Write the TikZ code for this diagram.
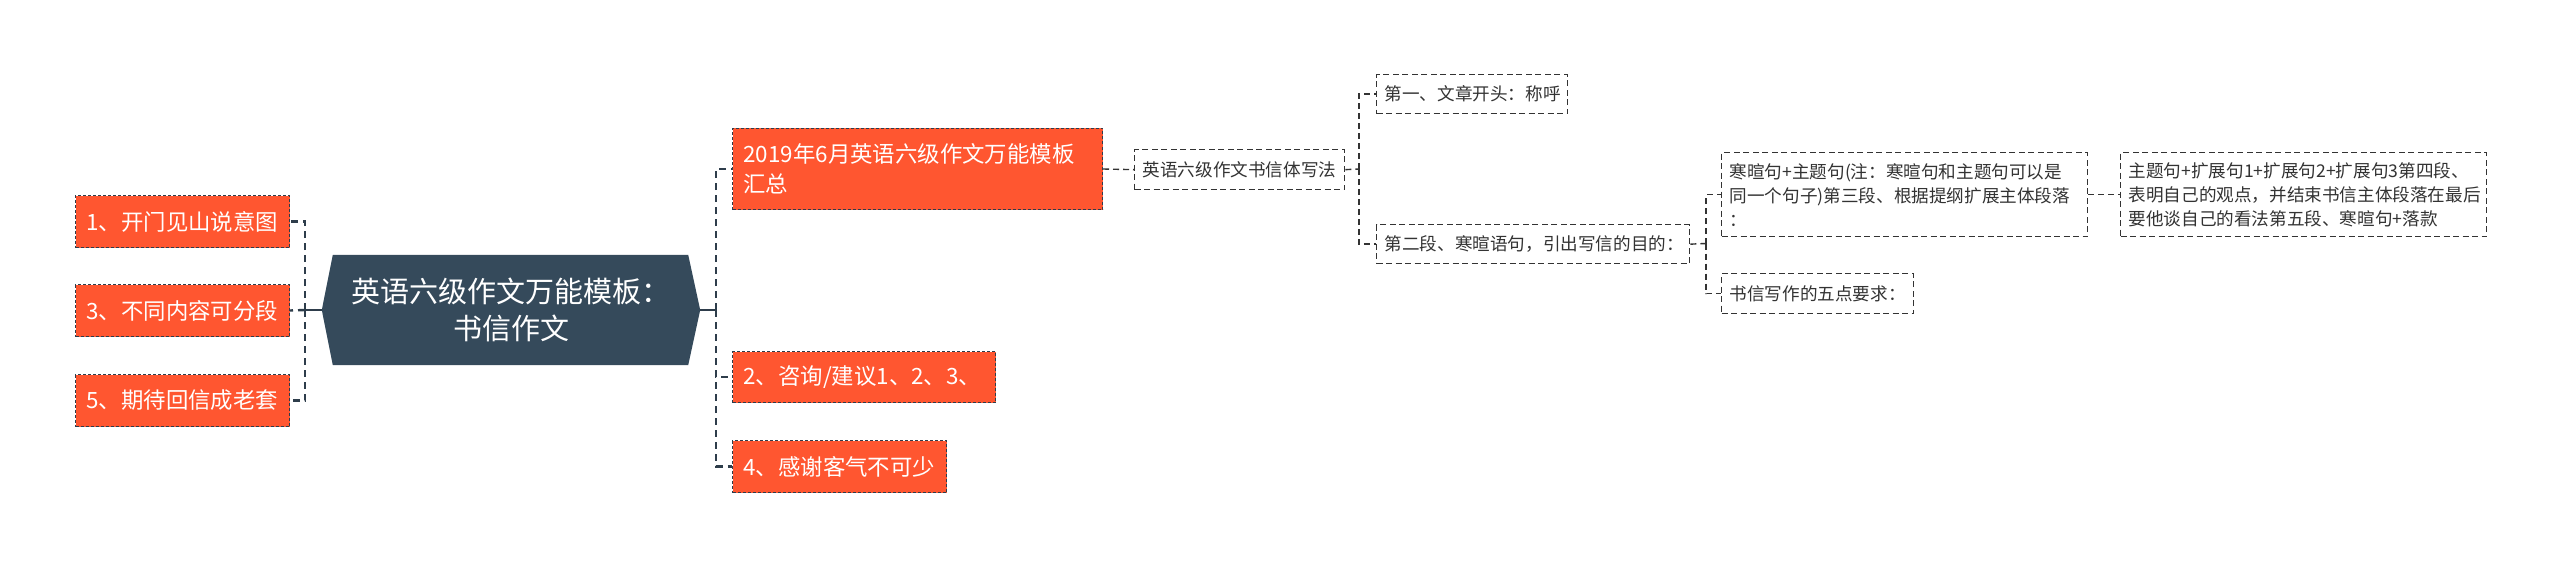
\documentclass[tikz,border=0pt]{standalone}
\usepackage{fontspec}
\setmainfont{Noto Sans CJK SC}
\usetikzlibrary{backgrounds}
\definecolor{orangefill}{HTML}{FF5630}
\definecolor{darkfill}{HTML}{354A5B}
\definecolor{linecol}{HTML}{2E3D4B}
\definecolor{txtgray}{HTML}{333333}
\tikzset{
  orangebox/.style={draw=linecol, line width=1pt, dash pattern=on 3pt off 2pt, fill=orangefill,
    text=white, font=\fontsize{22.4}{30}\selectfont, align=left, inner xsep=11pt, inner ysep=0pt, anchor=north west},
  whitebox/.style={draw=txtgray, line width=1.3pt, dash pattern=on 6pt off 3.5pt, fill=white,
    text=txtgray, font=\fontsize{17.6}{24}\selectfont, align=left, inner xsep=8pt, inner ysep=0pt, anchor=north west},
  mainsolid/.style={draw=linecol, line width=2.4pt},
  maindash/.style={draw=linecol, line width=2.4pt, dash pattern=on 7pt off 5pt},
  subdash/.style={draw=txtgray, line width=1.4pt, dash pattern=on 6pt off 4pt},
}
\begin{document}
\begin{tikzpicture}[x=1pt,y=-1pt]
\useasboundingbox (0,0) rectangle (2560,567);
% central
\node[text=white, font=\fontsize{29}{37}\selectfont, align=center, minimum width=378pt, minimum height=110pt, inner sep=0pt] (c) at (511,310) {英语六级作文万能模板：\\书信作文};
\begin{scope}[on background layer]
\fill[darkfill] (c.west) -- ([xshift=11pt]c.north west) -- ([xshift=-12pt]c.north east) -- (c.east) -- ([xshift=-12pt]c.south east) -- ([xshift=11pt]c.south west) -- cycle;
\end{scope}
% left
\node[orangebox, text width=192pt, minimum height=52pt] (L1) at (75,195) {1、开门见山说意图};
\node[orangebox, text width=192pt, minimum height=52pt] (L3) at (75,284) {3、不同内容可分段};
\node[orangebox, text width=192pt, minimum height=52pt] (L5) at (75,374) {5、期待回信成老套};
% right
\node[orangebox, text width=348pt, minimum height=81pt] (R1) at (732,128) {2019年6月英语六级作文万能模板\\汇总};
\node[orangebox, text width=241pt, minimum height=51pt] (R2) at (732,351) {2、咨询/建议1、2、3、};
\node[orangebox, text width=192pt, minimum height=52pt] (R4) at (732,440) {4、感谢客气不可少};
% white boxes
\node[whitebox, text width=194pt, minimum height=40pt] (W1) at (1134,149) {英语六级作文书信体写法};
\node[whitebox, text width=175pt, minimum height=39pt] (W2) at (1376,74) {第一、文章开头：称呼};
\node[whitebox, text width=297pt, minimum height=39pt] (W3) at (1376,224) {第二段、寒暄语句，引出写信的目的：};
\node[whitebox, text width=350pt, minimum height=84pt] (W4) at (1721,152) {寒暄句+主题句(注：寒暄句和主题句可以是\\同一个句子)第三段、根据提纲扩展主体段落\\：};
\node[whitebox, text width=176pt, minimum height=40pt] (W5) at (1721,273) {书信写作的五点要求：};
\node[whitebox, text width=350pt, minimum height=84pt] (W6) at (2120,152) {主题句+扩展句1+扩展句2+扩展句3第四段、\\表明自己的观点，并结束书信主体段落在最后\\要他谈自己的看法第五段、寒暄句+落款};
% connectors
\coordinate (cl) at (305,310);
\coordinate (cr) at (716,310);
\draw[mainsolid] (c.west) -- ([xshift=-5pt]cl);
\draw[maindash] (cl) |- (L1.east);
\draw[maindash] (cl) |- (L5.east);
\draw[maindash] (cl) -- (L3.east);
\draw[mainsolid] (c.east) -- (cr);
\draw[maindash] (cr) |- (R1.west);
\draw[maindash] (cr) |- (R2.west);
\draw[maindash] (cr) |- (R4.west);
\draw[subdash] (R1.east) -- (W1.west);
\coordinate (b1) at (1359,169);
\draw[subdash] (W1.east) -- (b1);
\draw[subdash] (b1) |- (W2.west);
\draw[subdash] (b1) |- (W3.west);
\coordinate (b2) at (1706,243.5);
\draw[subdash] (W3.east) -- (b2);
\draw[subdash] (b2) |- (W4.west);
\draw[subdash] (b2) |- (W5.west);
\draw[subdash] (W4.east) -- (W6.west);
\end{tikzpicture}
\end{document}
